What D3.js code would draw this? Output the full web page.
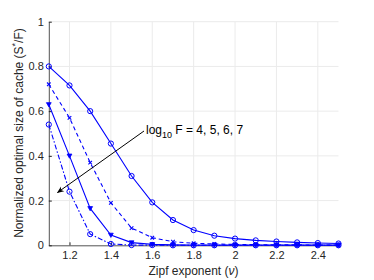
<!DOCTYPE html>
<html><head><meta charset="utf-8">
<script src="https://cdn.jsdelivr.net/npm/d3@7"></script>
<style>body{margin:0;background:#fff}svg{display:block;font-family:"Liberation Sans",Arial,sans-serif}</style>
</head><body><svg id="c" width="374" height="280"></svg>
<script>
const zipf = [1.1,1.2,1.3,1.4,1.5,1.6,1.7,1.8,1.9,2.0,2.1,2.2,2.3,2.4,2.5];
const logF4 = [0.80,0.715,0.60,0.455,0.31,0.192,0.113,0.068,0.043,0.03,0.022,0.017,0.013,0.01,0.008];
const logF5 = [0.72,0.57,0.37,0.19,0.077,0.034,0.016,0.009,0.006,0.004,0.003,0.002,0.002,0.001,0.001];
const logF6 = [0.63,0.40,0.165,0.046,0.012,0.004,0.002,0.001,0.001,0.001,0.001,0.001,0.001,0.001,0.001];
const logF7 = [0.54,0.24,0.05,0.006,0.001,0.001,0,0,0,0,0,0,0,0,0];
const xTicks = [1.2,1.4,1.6,1.8,2,2.2,2.4];
const yTicks = [0,0.2,0.4,0.6,0.8,1];
const annot = "F = 4, 5, 6, 7";

const svg = d3.select("#c");
const x = d3.scaleLinear().domain([1.1,2.5]).range([48.8,338.5]);
const y = d3.scaleLinear().domain([0,1]).range([245.3,21.7]);
const blue = "#0000ff";

// grid
svg.append("g").selectAll("line").data(xTicks).join("line")
  .attr("x1",d=>x(d)).attr("x2",d=>x(d)).attr("y1",y(0)).attr("y2",y(1))
  .attr("stroke","#ebebeb").attr("stroke-width",1);
svg.append("g").selectAll("line").data(yTicks.filter(d=>d>0)).join("line")
  .attr("x1",x(1.1)).attr("x2",x(2.5)).attr("y1",d=>y(d)).attr("y2",d=>y(d))
  .attr("stroke","#ebebeb").attr("stroke-width",1);

// axes
const gx = svg.append("g").attr("transform",`translate(0,${y(0)})`)
  .call(d3.axisBottom(x).tickValues(xTicks).tickFormat(d3.format("")).tickSize(-3).tickSizeOuter(0).tickPadding(6));
const gy = svg.append("g").attr("transform",`translate(${x(1.1)},0)`)
  .call(d3.axisLeft(y).tickValues(yTicks).tickFormat(d3.format("")).tickSize(-3).tickSizeOuter(0).tickPadding(5));
[gx,gy].forEach(g=>{
  g.select(".domain").attr("stroke","#262626").attr("stroke-width",0.8);
  g.selectAll(".tick line").attr("stroke","#262626");
  g.selectAll("text").attr("fill","#262626").style("font-size","11px").style("font-family","'Liberation Sans',Arial,sans-serif");
});

const series = [
  {v:logF4, dash:null, marker:"circle"},
  {v:logF5, dash:"4,3", marker:"x"},
  {v:logF6, dash:null, marker:"tri"},
  {v:logF7, dash:"5,2,1.5,2", marker:"circle"}
];
const line = d3.line().x((d,i)=>x(zipf[i])).y(d=>y(d));
series.forEach(s=>{
  svg.append("path").datum(s.v).attr("d",line).attr("fill","none")
    .attr("stroke",blue).attr("stroke-width",1.1).attr("stroke-dasharray",s.dash);
  const g = svg.append("g");
  s.v.forEach((d,i)=>{
    const cx=x(zipf[i]), cy=y(d);
    if(s.marker==="circle"){
      g.append("circle").attr("cx",cx).attr("cy",cy).attr("r",2.6).attr("fill","none").attr("stroke",blue).attr("stroke-width",1);
    } else if(s.marker==="tri"){
      g.append("path").attr("d",`M${cx-2.4},${cy-1.8}L${cx+2.4},${cy-1.8}L${cx},${cy+2.4}Z`).attr("fill",blue).attr("stroke",blue).attr("stroke-width",0.8);
    } else {
      g.append("path").attr("d",`M${cx-1.8},${cy-1.8}L${cx+1.8},${cy+1.8}M${cx-1.8},${cy+1.8}L${cx+1.8},${cy-1.8}`).attr("stroke",blue).attr("stroke-width",1.1);
    }
  });
});

// annotation arrow
svg.append("defs").append("marker").attr("id","ah").attr("viewBox","0 0 10 10").attr("refX",9).attr("refY",5)
  .attr("markerWidth",7).attr("markerHeight",7).attr("orient","auto-start-reverse")
  .append("path").attr("d","M0,1L10,5L0,9L3,5Z").attr("fill","#000");
svg.append("line").attr("x1",144).attr("y1",131).attr("x2",57.5).attr("y2",192.5)
  .attr("stroke","#000").attr("stroke-width",1).attr("marker-end","url(#ah)");
const t = svg.append("text").attr("x",146).attr("y",134).attr("fill","#000").style("font-size","12px");
t.append("tspan").text("log");
t.append("tspan").attr("dy",4).style("font-size","9px").text("10");
t.append("tspan").attr("dy",-4).text(" " + annot);

// axis labels
svg.append("text").attr("x",193.5).attr("y",275).attr("text-anchor","middle").attr("fill","#262626").style("font-size","12px")
  .html('Zipf exponent (<tspan font-style="italic">ν</tspan>)');
const yl = svg.append("text").attr("transform","translate(23,133) rotate(-90)").attr("text-anchor","middle").attr("fill","#262626").style("font-size","12px");
yl.append("tspan").text("Normalized optimal size of cache (S");
yl.append("tspan").attr("dy",-5).style("font-size","9px").text("*");
yl.append("tspan").attr("dy",5).text("/F)");
</script></body></html>
